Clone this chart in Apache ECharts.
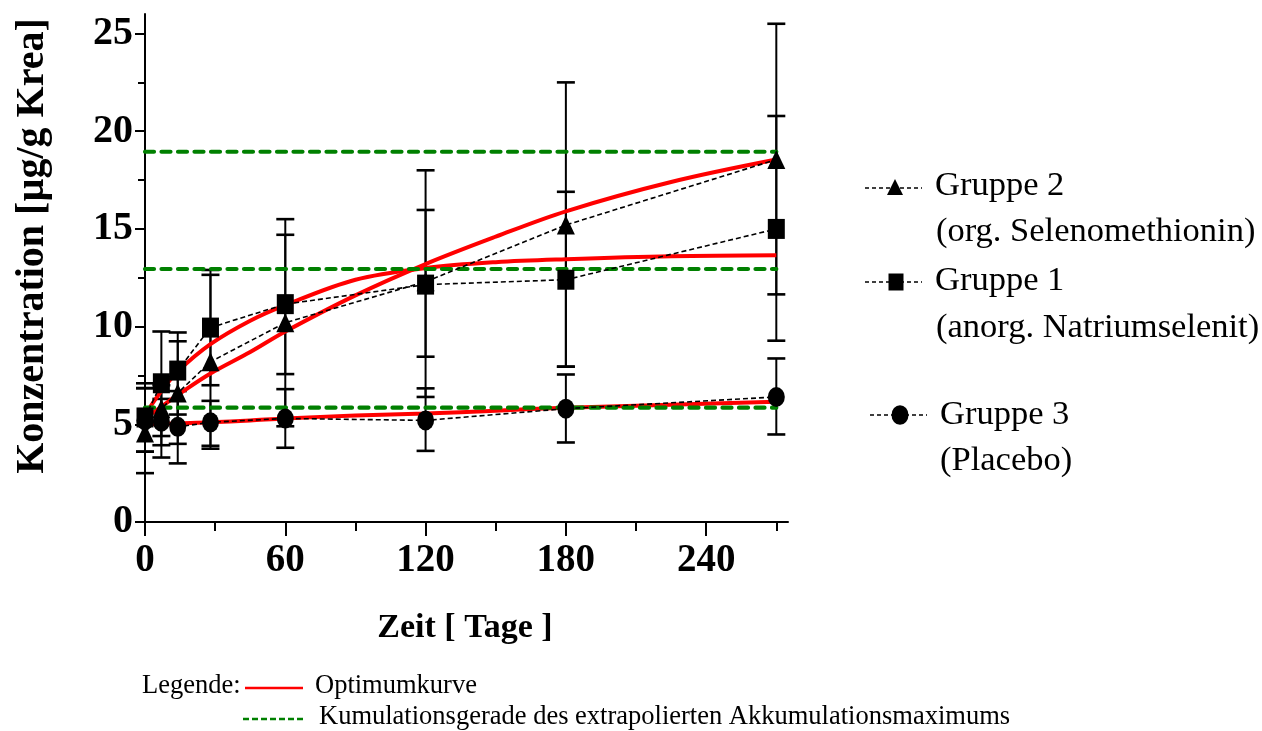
<!DOCTYPE html>
<html>
<head>
<meta charset="utf-8">
<script src="https://cdn.jsdelivr.net/npm/echarts@6/dist/echarts.min.js"></script>
<style>
html,body{margin:0;padding:0;background:#fff;}
#chart{width:1262px;height:731px;}
</style>
</head>
<body>
<div id="chart"></div>
<script>
// ---- data ----
const days = [0, 7, 14, 28, 60, 120, 180, 270];

const g2Mean = [4.55, 5.8, 6.6, 8.2, 10.2, 12.3, 15.2, 18.55];
const g2Low  = [2.5, 3.3, 4.0, 3.75, 4.9, 6.4, 7.95, 11.65];
const g2High = [6.85, 7.0, 9.25, 12.65, 15.5, 18.0, 22.5, 25.5];

const g1Mean = [5.35, 7.1, 7.75, 9.95, 11.15, 12.15, 12.4, 15.0];
const g1Low  = [3.6, 4.4, 5.5, 7.0, 7.57, 8.46, 7.95, 9.28];
const g1High = [7.1, 9.75, 9.7, 12.9, 14.7, 15.97, 16.9, 20.78];

const g3Mean = [5.2, 5.13, 4.87, 5.1, 5.3, 5.2, 5.8, 6.4];
const g3Low  = [3.6, 3.93, 3.0, 3.9, 3.8, 3.64, 4.07, 4.48];
const g3High = [6.85, 6.3, 6.7, 6.2, 6.8, 6.84, 7.55, 8.37];

// optimum curves (sampled from the red curves)
const fitDays = [0, 7, 14, 28, 45, 60, 90, 120, 150, 180, 225, 270];
const fitG1 = [5.5, 6.7, 7.7, 9.1, 10.3, 11.1, 12.4, 13.0, 13.3, 13.45, 13.6, 13.65];
const fitG2 = [5.3, 5.9, 6.5, 7.6, 8.7, 9.75, 11.6, 13.2, 14.6, 15.9, 17.4, 18.55];
const fitG3 = [5.0, 5.02, 5.05, 5.1, 5.2, 5.3, 5.45, 5.55, 5.7, 5.85, 6.0, 6.15];

// accumulation maxima (green dashed lines)
const kumLevels = [18.95, 12.95, 5.85];
const kumRange = [0, 270];

// axis ticks
const xMajorTicks = [0, 60, 120, 180, 240];
const xMinorTicks = [30, 90, 150, 210, 270];
const yMajorTicks = [0, 5, 10, 15, 20, 25];
const yMinorTicks = [2.5, 7.5, 12.5, 17.5, 22.5];

const groupNames = ['Gruppe 2', 'Gruppe 1', 'Gruppe 3'];

// ---- chart ----
const chart = echarts.init(document.getElementById('chart'), null, {renderer: 'canvas'});
const SERIF = '"Liberation Serif", "Times New Roman", serif';

function errorSeries(low, high) {
  return {
    type: 'custom',
    silent: true,
    z: 1,
    data: days.map((d, i) => [d, low[i], high[i]]),
    encode: {x: 0, y: [1, 2]},
    renderItem: function (params, api) {
      const x = api.value(0);
      const lo = api.coord([x, api.value(1)]);
      const hi = api.coord([x, api.value(2)]);
      const hw = 9;
      const st = {stroke: '#000', lineWidth: 2};
      const cap = {stroke: '#000', lineWidth: 2.6};
      return {
        type: 'group',
        children: [
          {type: 'line', shape: {x1: lo[0], y1: lo[1], x2: hi[0], y2: hi[1]}, style: st},
          {type: 'line', shape: {x1: lo[0] - hw, y1: lo[1], x2: lo[0] + hw, y2: lo[1]}, style: cap},
          {type: 'line', shape: {x1: hi[0] - hw, y1: hi[1], x2: hi[0] + hw, y2: hi[1]}, style: cap}
        ]
      };
    }
  };
}

function groupSeries(name, mean, symbol, size) {
  return {
    type: 'line',
    name: name,
    z: 6,
    data: days.map((d, i) => [d, mean[i]]),
    symbol: symbol,
    symbolSize: size,
    showAllSymbol: true,
    itemStyle: {color: '#000'},
    lineStyle: {color: '#000', width: 1.6, type: [5, 3]}
  };
}

function fitSeries(vals) {
  return {
    type: 'line',
    z: 3,
    silent: true,
    smooth: 0.35,
    symbol: 'none',
    data: fitDays.map((d, i) => [d, vals[i]]),
    lineStyle: {color: '#ff0000', width: 4}
  };
}

function kumSeries(level) {
  return {
    type: 'line',
    z: 4,
    silent: true,
    symbol: 'none',
    data: [[kumRange[0], level], [kumRange[1], level]],
    lineStyle: {color: '#008000', width: 4.2, type: [9, 7.5], cap: 'round'}
  };
}

const option = {
  animation: false,
  backgroundColor: '#fff',
  grid: {left: 145, top: 14, width: 643, height: 508, containLabel: false},
  xAxis: [
    {
      type: 'value', min: 0, max: 275,
      axisLine: {show: true, lineStyle: {color: '#000', width: 2}},
      axisTick: {show: true, customValues: xMajorTicks, length: 14, lineStyle: {color: '#000', width: 2}},
      axisLabel: {
        customValues: xMajorTicks, margin: 19,
        color: '#000', fontFamily: SERIF, fontWeight: 'bold', fontSize: 39
      },
      splitLine: {show: false}
    },
    {
      type: 'value', min: 0, max: 275, position: 'bottom',
      axisLine: {show: false},
      axisTick: {show: true, customValues: xMinorTicks, length: 9, lineStyle: {color: '#000', width: 2}},
      axisLabel: {show: false},
      splitLine: {show: false}
    }
  ],
  yAxis: [
    {
      type: 'value', min: 0, max: 26,
      axisLine: {show: true, lineStyle: {color: '#000', width: 2}},
      axisTick: {show: true, customValues: yMajorTicks, length: 10, lineStyle: {color: '#000', width: 2}},
      axisLabel: {
        customValues: yMajorTicks, margin: 12,
        color: '#000', fontFamily: SERIF, fontWeight: 'bold', fontSize: 40
      },
      splitLine: {show: false}
    },
    {
      type: 'value', min: 0, max: 26, position: 'left',
      axisLine: {show: false},
      axisTick: {show: true, customValues: yMinorTicks, length: 7, lineStyle: {color: '#000', width: 2}},
      axisLabel: {show: false},
      splitLine: {show: false}
    }
  ],
  series: [
    errorSeries(g2Low, g2High),
    errorSeries(g1Low, g1High),
    errorSeries(g3Low, g3High),
    fitSeries(fitG1),
    fitSeries(fitG2),
    fitSeries(fitG3),
    kumSeries(kumLevels[0]),
    kumSeries(kumLevels[1]),
    kumSeries(kumLevels[2]),
    groupSeries(groupNames[0], g2Mean, 'triangle', [18, 19]),
    groupSeries(groupNames[1], g1Mean, 'rect', [17, 20]),
    groupSeries(groupNames[2], g3Mean, 'circle', [17, 20])
  ],
  graphic: [
    // axis titles
    {type: 'text', x: 33, y: 246, rotation: Math.PI / 2, silent: true,
     style: {text: 'Konzentration [µg/g Krea]', align: 'center', verticalAlign: 'middle',
             font: 'bold 40px ' + SERIF, fill: '#000'}},
    {type: 'text', x: 465, y: 628, silent: true,
     style: {text: 'Zeit [ Tage ]', align: 'center', verticalAlign: 'middle',
             font: 'bold 34px ' + SERIF, fill: '#000'}},

    // right legend
    {type: 'line', shape: {x1: 865, y1: 188, x2: 922, y2: 188}, silent: true,
     style: {stroke: '#000', lineWidth: 1.4, lineDash: [4, 3]}},
    {type: 'polygon', shape: {points: [[895, 179], [903, 195], [887, 195]]}, silent: true, style: {fill: '#000'}},
    {type: 'text', x: 935, y: 186, silent: true,
     style: {text: groupNames[0], verticalAlign: 'middle', font: '34.5px ' + SERIF, fill: '#000'}},
    {type: 'text', x: 936, y: 232, silent: true,
     style: {text: '(org. Selenomethionin)', verticalAlign: 'middle', font: '34.5px ' + SERIF, fill: '#000'}},

    {type: 'line', shape: {x1: 865, y1: 282, x2: 922, y2: 282}, silent: true,
     style: {stroke: '#000', lineWidth: 1.4, lineDash: [4, 3]}},
    {type: 'rect', shape: {x: 888.5, y: 273.5, width: 15, height: 17}, silent: true, style: {fill: '#000'}},
    {type: 'text', x: 935, y: 281, silent: true,
     style: {text: groupNames[1], verticalAlign: 'middle', font: '34.5px ' + SERIF, fill: '#000'}},
    {type: 'text', x: 936, y: 328, silent: true,
     style: {text: '(anorg. Natriumselenit)', verticalAlign: 'middle', font: '34.5px ' + SERIF, fill: '#000'}},

    {type: 'line', shape: {x1: 870, y1: 415, x2: 927, y2: 415}, silent: true,
     style: {stroke: '#000', lineWidth: 1.4, lineDash: [4, 3]}},
    {type: 'circle', shape: {cx: 0, cy: 0, r: 8.5}, x: 900, y: 415, scaleY: 1.15, silent: true, style: {fill: '#000'}},
    {type: 'text', x: 940, y: 415, silent: true,
     style: {text: groupNames[2], verticalAlign: 'middle', font: '34.5px ' + SERIF, fill: '#000'}},
    {type: 'text', x: 940, y: 461, silent: true,
     style: {text: '(Placebo)', verticalAlign: 'middle', font: '34.5px ' + SERIF, fill: '#000'}},

    // bottom legend
    {type: 'text', x: 142, y: 686, silent: true,
     style: {text: 'Legende:', verticalAlign: 'middle', font: '26.5px ' + SERIF, fill: '#000'}},
    {type: 'line', shape: {x1: 245, y1: 688, x2: 303, y2: 688}, silent: true,
     style: {stroke: '#ff0000', lineWidth: 2.6}},
    {type: 'text', x: 315, y: 686, silent: true,
     style: {text: 'Optimumkurve', verticalAlign: 'middle', font: '26.5px ' + SERIF, fill: '#000'}},
    {type: 'line', shape: {x1: 243, y1: 719, x2: 303, y2: 719}, silent: true,
     style: {stroke: '#008000', lineWidth: 2.6, lineDash: [6, 3]}},
    {type: 'text', x: 319, y: 717, silent: true,
     style: {text: 'Kumulationsgerade des extrapolierten Akkumulationsmaximums', verticalAlign: 'middle',
             font: '26.5px ' + SERIF, fill: '#000'}}
  ]
};
chart.setOption(option);
</script>
</body>
</html>
